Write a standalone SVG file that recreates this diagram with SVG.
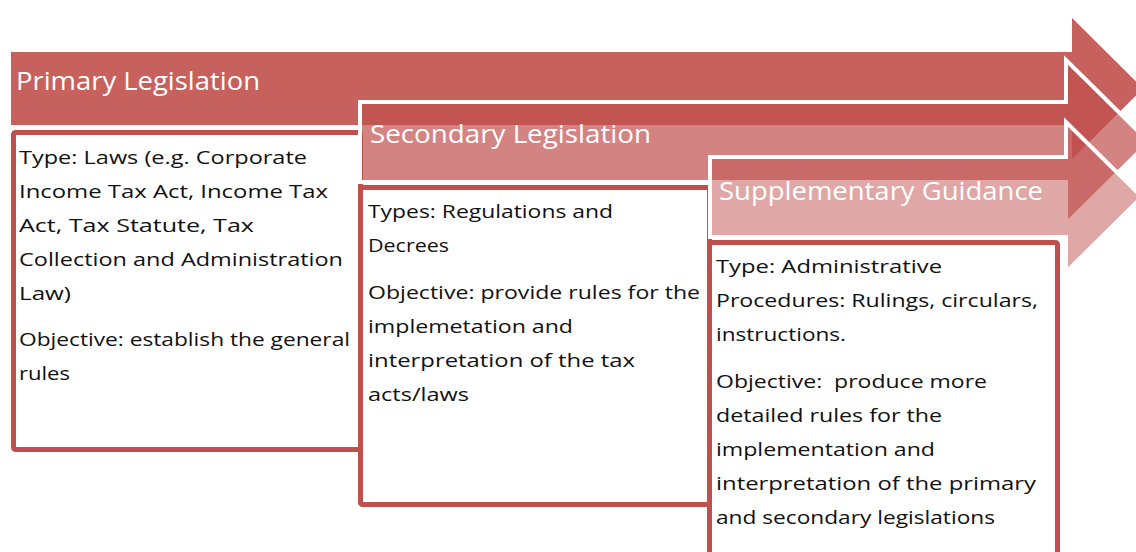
<svg xmlns="http://www.w3.org/2000/svg" width="1136" height="552" viewBox="0 0 1136 552">
  <style>
    .arrow { stroke: #ffffff; stroke-width: 4; stroke-linejoin: miter; }
    .a1 { fill: #C0504D; fill-opacity: 0.9; }
    .a2 { fill: #C0504D; fill-opacity: 0.7; }
    .a3 { fill: #C0504D; fill-opacity: 0.5; }
    .title { font-family: "Open Sans", "Noto Sans", "Liberation Sans", sans-serif; font-size: 26px; fill: #ffffff; }
    .box { fill: #ffffff; stroke: #C0504D; stroke-width: 5; }
    .body { font-family: "Open Sans", "Noto Sans", "Liberation Sans", sans-serif; font-size: 19px; fill: #111111; }
  </style>
  <rect width="1136" height="552" fill="#ffffff"/>

  <g id="primary-arrow">
    <path class="arrow a1" d="M9,50 H1070 V13 L1146,88.5 L1070,164 V127 H9 Z"/>
    <text class="title" x="16" y="90" textLength="244" lengthAdjust="spacingAndGlyphs">Primary Legislation</text>
  </g>

  <g id="primary-box">
    <rect class="box" x="13.5" y="132.5" width="347" height="317" rx="2"/>
    <text class="body" x="19" y="164" textLength="288" lengthAdjust="spacingAndGlyphs">Type: Laws (e.g. Corporate</text>
    <text class="body" x="19" y="198" textLength="309" lengthAdjust="spacingAndGlyphs">Income Tax Act, Income Tax</text>
    <text class="body" x="19" y="232" textLength="235" lengthAdjust="spacingAndGlyphs">Act, Tax Statute, Tax</text>
    <text class="body" x="19" y="266" textLength="324" lengthAdjust="spacingAndGlyphs">Collection and Administration</text>
    <text class="body" x="19" y="300" textLength="52" lengthAdjust="spacingAndGlyphs">Law)</text>
    <text class="body" x="19" y="346" textLength="331" lengthAdjust="spacingAndGlyphs">Objective: establish the general</text>
    <text class="body" x="19" y="380" textLength="51" lengthAdjust="spacingAndGlyphs">rules</text>
  </g>

  <g id="secondary-arrow">
    <path class="arrow a2" d="M360,102 H1066 V60 L1149,142 L1066,224 V182 H360 Z"/>
    <text class="title" x="370" y="143" textLength="281" lengthAdjust="spacingAndGlyphs">Secondary Legislation</text>
  </g>

  <g id="secondary-box">
    <rect class="box" x="360.5" y="187.5" width="349" height="317" rx="2"/>
    <text class="body" x="368" y="218" textLength="245" lengthAdjust="spacingAndGlyphs">Types: Regulations and</text>
    <text class="body" x="368" y="252" textLength="81" lengthAdjust="spacingAndGlyphs">Decrees</text>
    <text class="body" x="368" y="299" textLength="332" lengthAdjust="spacingAndGlyphs">Objective: provide rules for the</text>
    <text class="body" x="368" y="333" textLength="205" lengthAdjust="spacingAndGlyphs">implemetation and</text>
    <text class="body" x="368" y="367" textLength="267" lengthAdjust="spacingAndGlyphs">interpretation of the tax</text>
    <text class="body" x="368" y="401" textLength="101" lengthAdjust="spacingAndGlyphs">acts/laws</text>
  </g>

  <g id="supplementary-arrow">
    <path class="arrow a3" d="M710,157 H1066 V122 L1142,197 L1066,272 V237 H710 Z"/>
    <text class="title" x="719" y="200" textLength="324" lengthAdjust="spacingAndGlyphs">Supplementary Guidance</text>
  </g>

  <g id="supplementary-box">
    <rect class="box" x="709.5" y="242.5" width="348" height="317" rx="2"/>
    <text class="body" x="716" y="273" textLength="226" lengthAdjust="spacingAndGlyphs">Type: Administrative</text>
    <text class="body" x="716" y="307" textLength="322" lengthAdjust="spacingAndGlyphs">Procedures: Rulings, circulars,</text>
    <text class="body" x="716" y="341" textLength="130" lengthAdjust="spacingAndGlyphs">instructions.</text>
    <text class="body" x="716" y="388" textLength="271" lengthAdjust="spacingAndGlyphs" xml:space="preserve">Objective:  produce more</text>
    <text class="body" x="716" y="422" textLength="226" lengthAdjust="spacingAndGlyphs">detailed rules for the</text>
    <text class="body" x="716" y="456" textLength="219" lengthAdjust="spacingAndGlyphs">implementation and</text>
    <text class="body" x="716" y="490" textLength="320" lengthAdjust="spacingAndGlyphs">interpretation of the primary</text>
    <text class="body" x="716" y="524" textLength="279" lengthAdjust="spacingAndGlyphs">and secondary legislations</text>
  </g>

  <g id="connectors"/>
</svg>
